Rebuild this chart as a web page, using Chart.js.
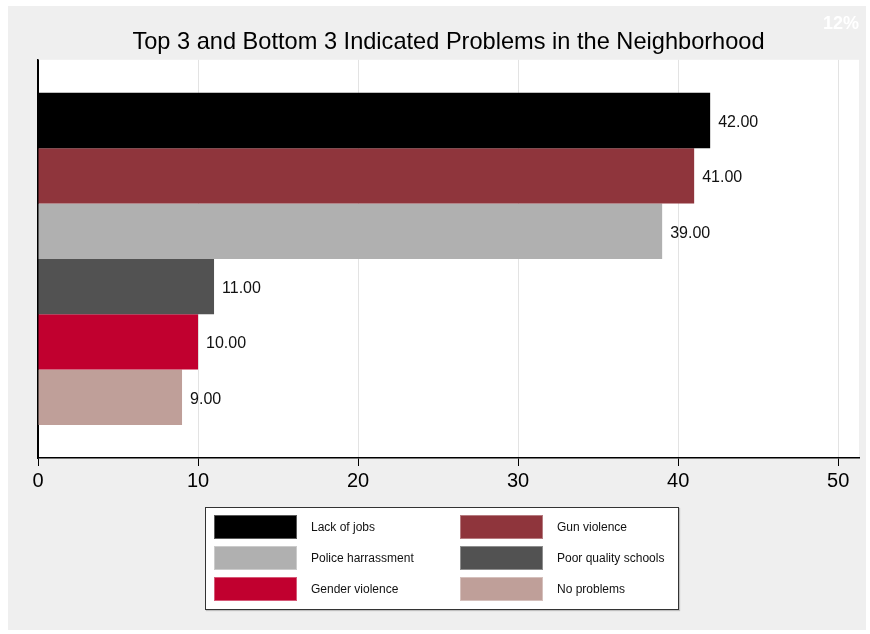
<!DOCTYPE html>
<html>
<head>
<meta charset="utf-8">
<script src="https://cdn.jsdelivr.net/npm/chart.js@4.4.1/dist/chart.umd.min.js"></script>
<style>
  html, body { margin: 0; padding: 0; background: #fff; }
  #wrap { position: relative; width: 870px; height: 634px; overflow: hidden; }
  #frame { position: absolute; left: 8px; top: 6px; width: 858px; height: 624px; background: #efefef; }
  #c { position: absolute; left: 0; top: 0; }
  #pct { position: absolute; left: 823px; top: 13px; line-height: 18px; color: #fff; font: bold 18px "Liberation Sans", sans-serif; }
  #legend { position: absolute; left: 205px; top: 507px; width: 472px; height: 101px; background: #fff;
            border: 1.5px solid #333; box-shadow: 1px 1px 1px rgba(0,0,0,0.2); }
  .item { position: absolute; height: 24px; font: 12px "Liberation Sans", sans-serif; color: #111; }
  .sw { position: absolute; left: 0; top: 0; width: 83px; height: 24px; box-sizing: border-box; border: 1px solid rgba(255,255,255,0.35); }
  .lb { position: absolute; left: 97px; top: 5px; white-space: nowrap; }
</style>
</head>
<body>
<div id="wrap">
  <div id="frame"></div>
  <canvas id="c" width="870" height="634"></canvas>
  <div id="pct">12%</div>
  <div id="legend"></div>
</div>
<script>
// data
const problem_labels = ['Lack of jobs', 'Gun violence', 'Police harrassment', 'Poor quality schools', 'Gender violence', 'No problems'];
const problem_values = [42, 41, 39, 11, 10, 9];
const problem_colors = ['#000000', '#8f353c', '#b0b0b0', '#525252', '#c1002f', '#bf9f99'];
const x_ticks = [0, 10, 20, 30, 40, 50];

var sets = [];
for (let i = 0; i < problem_labels.length; i++) {
    sets.push({
        label: problem_labels[i],
        data: [problem_values[i]],
        backgroundColor: problem_colors[i],
        borderWidth: 0,
        categoryPercentage: 0.834,
        barPercentage: 1.0
    });
}

// white plot area
const plot_bg = {
    id: 'plot_bg',
    beforeDraw(chart) {
        const a = chart.chartArea;
        const ctx = chart.ctx;
        ctx.save();
        ctx.fillStyle = '#ffffff';
        ctx.fillRect(a.left, a.top, a.right - a.left, a.bottom - a.top);
        ctx.restore();
    }
};

// value labels right of the bars
const bar_values = {
    id: 'bar_values',
    afterDatasetsDraw(chart) {
        const ctx = chart.ctx;
        ctx.save();
        ctx.font = '16px "Liberation Sans", sans-serif';
        ctx.fillStyle = '#111';
        ctx.textBaseline = 'middle';
        chart.data.datasets.forEach((ds, i) => {
            const bar = chart.getDatasetMeta(i).data[0];
            ctx.fillText(ds.data[0].toFixed(2), bar.x + 8, bar.y + 2);
        });
        ctx.restore();
    }
};

const cfg = {
    type: 'bar',
    data: { labels: [''], datasets: sets },
    options: {
        indexAxis: 'y',
        responsive: false,
        animation: false,
        layout: { padding: { left: 38, right: 11, top: 28, bottom: 138 } },
        scales: {
            x: {
                min: 0,
                max: 51.3,
                afterBuildTicks(scale) {
                    scale.ticks = x_ticks.map(v => ({ value: v }));
                },
                grid: {
                    color: (c) => c.tick && c.tick.value === 0 ? '#000' : '#e3e3e3',
                    lineWidth: 1,
                    tickColor: '#000',
                    tickLength: 8
                },
                border: { display: true, color: '#000', width: 1.5 },
                ticks: {
                    color: '#000',
                    padding: 3,
                    maxRotation: 0,
                    font: { family: '"Liberation Sans", sans-serif', size: 20 }
                }
            },
            y: {
                grid: { display: false, drawTicks: false },
                border: { display: true, color: '#000', width: 1.5 },
                ticks: { display: false }
            }
        },
        plugins: {
            legend: { display: false },
            tooltip: { enabled: false },
            title: {
                display: true,
                text: 'Top 3 and Bottom 3 Indicated Problems in the Neighborhood',
                color: '#000',
                font: { family: '"Liberation Sans", sans-serif', size: 23.6, weight: 'normal' },
                padding: { top: 0, bottom: 3.5 }
            }
        }
    },
    plugins: [plot_bg, bar_values]
};

const chart = new Chart(document.getElementById('c'), cfg);

// legend box, 2 columns x 3 rows
const legend = document.getElementById('legend');
const col_x = [8, 254];
const row_y = [7, 38, 69];
for (let i = 0; i < problem_labels.length; i++) {
    const it = document.createElement('div');
    it.className = 'item';
    it.style.left = col_x[i % 2] + 'px';
    it.style.top = row_y[Math.floor(i / 2)] + 'px';
    it.innerHTML = '<div class="sw" style="background:' + problem_colors[i] + '"></div><div class="lb">' + problem_labels[i] + '</div>';
    legend.appendChild(it);
}
</script>
</body>
</html>
